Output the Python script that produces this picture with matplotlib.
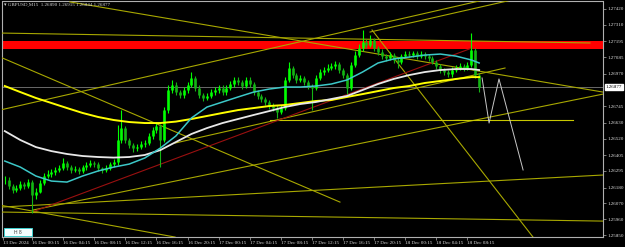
import matplotlib
matplotlib.use("Agg")
import matplotlib.pyplot as plt
from matplotlib.patches import Rectangle

# ---------------- data ----------------
# candle time index (M15 bars, bar 0 = 16 Dec 00:15), one candle per 30 minutes
candle_bar = list(range(-14, 231, 2))
close = [1.26232, 1.26190, 1.26163, 1.26177, 1.26204, 1.26190, 1.26218, 1.26128, 1.26149, 1.26211,
         1.26260, 1.26274, 1.26288, 1.26302, 1.26315, 1.26350, 1.26322, 1.26302, 1.26308, 1.26295,
         1.26322, 1.26336, 1.26350, 1.26343, 1.26315, 1.26302, 1.26315, 1.26343, 1.26357, 1.26510,
         1.26593, 1.26510, 1.26475, 1.26454, 1.26461, 1.26482, 1.26489, 1.26538, 1.26579, 1.26607,
         1.26510, 1.26718, 1.26857, 1.26892, 1.26843, 1.26823, 1.26857, 1.26892, 1.26941, 1.26871,
         1.26823, 1.26802, 1.26816, 1.26843, 1.26857, 1.26871, 1.26843, 1.26871, 1.26899, 1.26927,
         1.26913, 1.26885, 1.26927, 1.26899, 1.26843, 1.26816, 1.26795, 1.26774, 1.26746, 1.26732,
         1.26704, 1.26732, 1.26927, 1.27010, 1.26961, 1.26927, 1.26941, 1.26913, 1.26885, 1.26871,
         1.26941, 1.26982, 1.26996, 1.27010, 1.27024, 1.27038, 1.26996, 1.26961, 1.26871, 1.27031,
         1.27100, 1.27149, 1.27191, 1.27170, 1.27205, 1.27149, 1.27121, 1.27093, 1.27080, 1.27100,
         1.27066, 1.27052, 1.27093, 1.27107, 1.27100, 1.27114, 1.27093, 1.27107, 1.27093, 1.27080,
         1.27052, 1.27024, 1.26996, 1.26982, 1.26968, 1.26996, 1.27010, 1.27024, 1.27010, 1.27031,
         1.27135, 1.26961, 1.26877]
high = [1.26260, 1.26250, 1.26205, 1.26200, 1.26225, 1.26220, 1.26240, 1.26230, 1.26175, 1.26235,
        1.26280, 1.26300, 1.26310, 1.26325, 1.26340, 1.26385, 1.26365, 1.26335, 1.26330, 1.26325,
        1.26340, 1.26355, 1.26370, 1.26365, 1.26355, 1.26325, 1.26335, 1.26360, 1.26375, 1.26614,
        1.26718, 1.26610, 1.26525, 1.26490, 1.26480, 1.26500, 1.26510, 1.26560, 1.26600, 1.26635,
        1.26620, 1.26740, 1.26890, 1.26925, 1.26910, 1.26860, 1.26880, 1.26915, 1.26982, 1.26955,
        1.26890, 1.26840, 1.26840, 1.26865, 1.26880, 1.26895, 1.26890, 1.26895, 1.26920, 1.26950,
        1.26945, 1.26930, 1.26950, 1.26945, 1.26915, 1.26860, 1.26830, 1.26810, 1.26790, 1.26765,
        1.26750, 1.26755, 1.26950, 1.27052, 1.27025, 1.26975, 1.26965, 1.26955, 1.26930, 1.26900,
        1.26960, 1.27005, 1.27020, 1.27035, 1.27045, 1.27060, 1.27055, 1.27010, 1.26975, 1.27050,
        1.27125, 1.27175, 1.27274, 1.27215, 1.27240, 1.27220, 1.27165, 1.27140, 1.27110, 1.27120,
        1.27115, 1.27085, 1.27110, 1.27125, 1.27125, 1.27130, 1.27130, 1.27125, 1.27120, 1.27105,
        1.27095, 1.27065, 1.27040, 1.27010, 1.26995, 1.27015, 1.27030, 1.27045, 1.27040, 1.27050,
        1.27253, 1.27150, 1.26975]
low = [1.26204, 1.26170, 1.26140, 1.26150, 1.26160, 1.26170, 1.26175, 1.26003, 1.26100, 1.26140,
       1.26200, 1.26245, 1.26255, 1.26270, 1.26285, 1.26300, 1.26300, 1.26280, 1.26285, 1.26275,
       1.26280, 1.26305, 1.26320, 1.26325, 1.26295, 1.26280, 1.26285, 1.26300, 1.26325, 1.26340,
       1.26490, 1.26490, 1.26455, 1.26430, 1.26435, 1.26445, 1.26465, 1.26475, 1.26520, 1.26560,
       1.26322, 1.26495, 1.26700, 1.26840, 1.26820, 1.26800, 1.26805, 1.26840, 1.26875, 1.26850,
       1.26800, 1.26780, 1.26785, 1.26800, 1.26825, 1.26840, 1.26825, 1.26825, 1.26855, 1.26880,
       1.26895, 1.26865, 1.26870, 1.26880, 1.26825, 1.26795, 1.26775, 1.26755, 1.26725, 1.26710,
       1.26663, 1.26690, 1.26720, 1.26910, 1.26940, 1.26905, 1.26910, 1.26895, 1.26865, 1.26718,
       1.26855, 1.26925, 1.26965, 1.26980, 1.26995, 1.27005, 1.26975, 1.26940, 1.26829, 1.26855,
       1.27015, 1.27085, 1.27130, 1.27150, 1.27155, 1.27130, 1.27100, 1.27075, 1.27060, 1.27065,
       1.27045, 1.27010, 1.27040, 1.27080, 1.27085, 1.27085, 1.27075, 1.27080, 1.27075, 1.27060,
       1.27035, 1.27005, 1.26975, 1.26960, 1.26950, 1.26950, 1.26980, 1.26995, 1.26990, 1.26995,
       1.27015, 1.26940, 1.26844]

# moving averages, every 8 bars
ma_bar = list(range(-14, 227, 8)) + [230]
ma_yellow = [1.26885, 1.26843, 1.26802, 1.26767, 1.26732, 1.26698, 1.26670, 1.26649, 1.26635, 1.26628,
             1.26628, 1.26638, 1.26656, 1.26677, 1.26698, 1.26718, 1.26732, 1.26746, 1.26753, 1.26767,
             1.26781, 1.26788, 1.26809, 1.26829, 1.26850, 1.26871, 1.26885, 1.26906, 1.26920, 1.26934,
             1.26947, 1.26947]
ma_white = [1.26572, 1.26510, 1.26461, 1.26433, 1.26413, 1.26399, 1.26392, 1.26388, 1.26392, 1.26406,
            1.26440, 1.26496, 1.26552, 1.26593, 1.26628, 1.26656, 1.26684, 1.26711, 1.26739, 1.26760,
            1.26774, 1.26795, 1.26816, 1.26857, 1.26899, 1.26934, 1.26961, 1.26982, 1.26996, 1.27003,
            1.27003, 1.26996]
ma_cyan = [1.26364, 1.26322, 1.26260, 1.26225, 1.26218, 1.26260, 1.26295, 1.26322, 1.26343, 1.26385,
           1.26454, 1.26538, 1.26663, 1.26739, 1.26774, 1.26809, 1.26843, 1.26864, 1.26878, 1.26878,
           1.26885, 1.26899, 1.26927, 1.26982, 1.27045, 1.27073, 1.27086, 1.27100, 1.27107, 1.27093,
           1.27066, 1.27045]

# drawn objects: trend lines (bar0, price0, bar1, price1)
olive_lines = [
    (-16.5, 1.26718, 232.5, 1.27483),   # upper channel
    (173.9, 1.27260, 246.9, 1.27483),   # upper channel 2
    (19.5, 1.27469, 293.7, 1.26843),    # long falling line
    (-16.5, 1.27253, 287.0, 1.27184),   # near-flat top line
    (174.9, 1.27274, 257.7, 1.25836),   # steep falling line
    (-16.5, 1.27087, 158.4, 1.26079),   # falling line from left
    (0.5, 1.26024, 293.7, 1.26829),     # rising fan line
    (-16.5, 1.26044, 293.7, 1.26267),   # shallow rising line
    (-16.5, 1.26010, 293.7, 1.25947),   # bottom flat line
    (-16.5, 1.26058, 73.6, 1.25836),    # falling bottom-left line
    (73.6, 1.26489, 243.3, 1.27010),    # lower channel
]
hline_level = 1.26649
hline_from, hline_to = 122.4, 278.3
red_line = (1.5, 1.26017, 226.3, 1.27149)
zone_low, zone_high = 1.27142, 1.27198
proj_bar = [231.5, 235.1, 240.2, 252.6]
proj_px = [1.26941, 1.26628, 1.26934, 1.26302]
last_price = 1.26877

price_ticks = [1.27420, 1.27310, 1.27195, 1.27085, 1.26970, 1.26745, 1.26630, 1.26520,
               1.26405, 1.26295, 1.26180, 1.26070, 1.25960, 1.25850]
time_ticks = [-15, 0, 16, 32, 48, 64, 80, 96, 112, 128, 144, 160, 176, 192, 208, 224]
time_labels = ["13 Dec 2024", "16 Dec 00:15", "16 Dec 04:15", "16 Dec 08:15", "16 Dec 12:15",
               "16 Dec 16:15", "16 Dec 20:15", "17 Dec 00:15", "17 Dec 04:15", "17 Dec 08:15",
               "17 Dec 12:15", "17 Dec 16:15", "17 Dec 20:15", "18 Dec 00:15", "18 Dec 04:15",
               "18 Dec 08:15"]
title = "\u25be GBPUSD,M15  1.26890 1.26915 1.26844 1.26877"
box_label = "H 8"

# ---------------- plot ----------------
W, H = 625, 247
fig = plt.figure(figsize=(W / 100, H / 100), dpi=100, facecolor="black")
ax = fig.add_axes([2 / W, 1 - 236.5 / H, 601 / W, 235 / H])
ax.set_facecolor("black")
ax.set_xlim(-15.43, 293.7)
ax.set_ylim(1.25840, 1.27472)

ax.axhspan(zone_low, zone_high, color="#ff0000", lw=0, zorder=1)
ax.axhline(last_price, color="#7a7a7a", lw=0.6, zorder=2)

for (x0, y0, x1, y1) in olive_lines:
    ax.plot([x0, x1], [y0, y1], color="#a8a800", lw=0.8, zorder=3)
ax.plot([hline_from, hline_to], [hline_level, hline_level], color="#c8c800", lw=0.8, zorder=3)
ax.plot([red_line[0], red_line[2]], [red_line[1], red_line[3]], color="#9a1010", lw=0.8, zorder=3)
ax.plot(proj_bar, proj_px, color="#c8c8c8", lw=0.7, zorder=3)

# candles
for i, c in enumerate(close):
    o = close[i - 1] if i > 0 else c
    col = "#00ff00" if c >= o else "#14b414"
    x = candle_bar[i]
    ax.vlines(x, low[i], high[i], color=col, lw=0.8, zorder=5)
    ax.vlines(x, min(o, c), max(o, c), color=col, lw=1.9, zorder=5)

ax.plot(ma_bar, ma_yellow, color="#ffff00", lw=1.4, zorder=6)
ax.plot(ma_bar, ma_white, color="#e8e8e8", lw=1.3, zorder=6)
ax.plot(ma_bar, ma_cyan, color="#3cc8c8", lw=1.1, zorder=6)

# axes styling
for s in ax.spines.values():
    s.set_color("#b0b0b0")
    s.set_linewidth(0.8)
ax.yaxis.tick_right()
ax.set_yticks(price_ticks)
ax.set_yticklabels([f"{p:.5f}" for p in price_ticks], fontsize=3.6, color="#e0e0e0",
                   family="Liberation Serif")
ax.set_xticks(time_ticks)
ax.set_xticklabels(time_labels, fontsize=3.6, color="#e0e0e0", family="Liberation Serif", ha="left")
ax.tick_params(axis="both", length=2, width=0.5, color="#b0b0b0", pad=1)

ax.annotate(f"{last_price:.5f}", xy=(1.004, last_price), xycoords=("axes fraction", "data"),
            fontsize=3.6, family="Liberation Serif", color="black", ha="left", va="center",
            bbox=dict(boxstyle="square,pad=0.15", fc="white", ec="white"), annotation_clip=False)

fig.text(4 / W, 1 - 5 / H, title, fontsize=3.6, color="#d8d8d8", va="center",
         family=["Liberation Serif", "DejaVu Sans"])

# small labelled button at lower left
fig.patches.append(Rectangle((4 / W, 1 - 236 / H), 28 / W, 8 / H, transform=fig.transFigure,
                             facecolor="#f4ffff", edgecolor="#40d0d0", lw=0.7, zorder=10))
fig.text(18 / W, 1 - 232 / H, box_label, fontsize=3.6, color="#404040", ha="center", va="center",
         family="Liberation Sans", zorder=11)

fig.savefig("out.png", dpi=100, facecolor="black")
